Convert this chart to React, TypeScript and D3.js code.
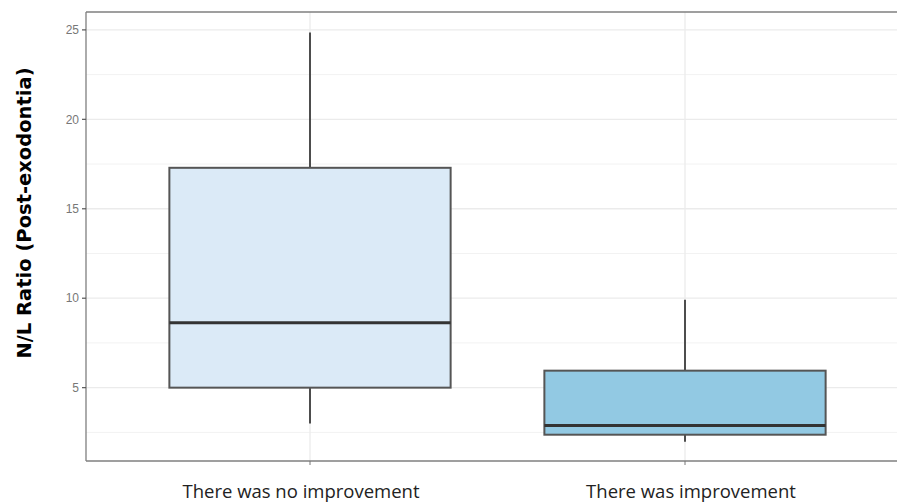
import React from "react";
import * as d3 from "d3";

const categories = ["There was no improvement", "There was improvement"];
const whiskerLow = [3.0, 1.98];
const q1 = [5.0, 2.37];
const median = [8.63, 2.88];
const q3 = [17.29, 5.95];
const whiskerHigh = [24.85, 9.92];
const fills = ["#dbeaf7", "#92c9e3"];
const yTicks = [5, 10, 15, 20, 25];
const yMinor = [2.5, 7.5, 12.5, 17.5, 22.5];

const W = 897;
const H = 502;
const left = 86;
const top = 12;
const bottom = 461;
const labelShift = [-9, 6];

export default function App() {
  const y = d3.scaleLinear().domain([0.9, 26.0]).range([bottom, top]);
  const x = d3.scalePoint<string>().domain(categories).range([310, 685]);
  const step = 375;
  const boxW = step * 0.75;
  const right = W + 20;

  return (
    <svg width={W} height={H} style={{ position: "absolute", left: 0, top: 0, background: "#fff" }}>
      <rect x={0} y={0} width={W} height={H} fill="#fff" />
      {yMinor.map((t) => (
        <line key={"mi" + t} x1={left} x2={right} y1={y(t)} y2={y(t)} stroke="#f2f2f2" strokeWidth={1} />
      ))}
      {yTicks.map((t) => (
        <line key={"ma" + t} x1={left} x2={right} y1={y(t)} y2={y(t)} stroke="#ebebeb" strokeWidth={1.3} />
      ))}
      {categories.map((c) => (
        <line key={"xg" + c} x1={x(c)!} x2={x(c)!} y1={top} y2={bottom} stroke="#ebebeb" strokeWidth={1.3} />
      ))}
      {categories.map((c, i) => {
        const cx = x(c)!;
        return (
          <g key={c}>
            <line x1={cx} x2={cx} y1={y(whiskerHigh[i])} y2={y(q3[i])} stroke="#4d4d4d" strokeWidth={2} />
            <line x1={cx} x2={cx} y1={y(q1[i])} y2={y(whiskerLow[i])} stroke="#4d4d4d" strokeWidth={2} />
            <rect
              x={cx - boxW / 2}
              y={y(q3[i])}
              width={boxW}
              height={y(q1[i]) - y(q3[i])}
              fill={fills[i]}
              stroke="#555"
              strokeWidth={2}
            />
            <line x1={cx - boxW / 2} x2={cx + boxW / 2} y1={y(median[i])} y2={y(median[i])} stroke="#333" strokeWidth={3} />
          </g>
        );
      })}
      <line x1={left} x2={right} y1={top} y2={top} stroke="#7f7f7f" strokeWidth={1.3} />
      <line x1={left} x2={right} y1={bottom} y2={bottom} stroke="#7f7f7f" strokeWidth={1.3} />
      <line x1={left} x2={left} y1={top} y2={bottom} stroke="#7f7f7f" strokeWidth={1.3} />
      {yTicks.map((t) => (
        <g key={"yt" + t}>
          <line x1={left - 4} x2={left} y1={y(t)} y2={y(t)} stroke="#555" strokeWidth={1.2} />
          <text x={left - 7} y={y(t)} dy="0.35em" textAnchor="end" fontFamily="Liberation Sans, Arial, sans-serif" fontSize={12} fill="#777">
            {t}
          </text>
        </g>
      ))}
      {categories.map((c, i) => (
        <g key={"xt" + c}>
          <line x1={x(c)!} x2={x(c)!} y1={bottom} y2={bottom + 4} stroke="#777" strokeWidth={1} />
          <text x={x(c)! + labelShift[i]} y={498} textAnchor="middle" fontFamily="Open Sans, sans-serif" fontSize={18.5} fill="#222">
            {c}
          </text>
        </g>
      ))}
      <text
        transform={`translate(31, 213) rotate(-90)`}
        textAnchor="middle"
        fontFamily="DejaVu Sans, sans-serif"
        fontWeight="bold"
        fontSize={19.5}
        fill="#000"
      >
        N/L Ratio (Post-exodontia)
      </text>
    </svg>
  );
}
